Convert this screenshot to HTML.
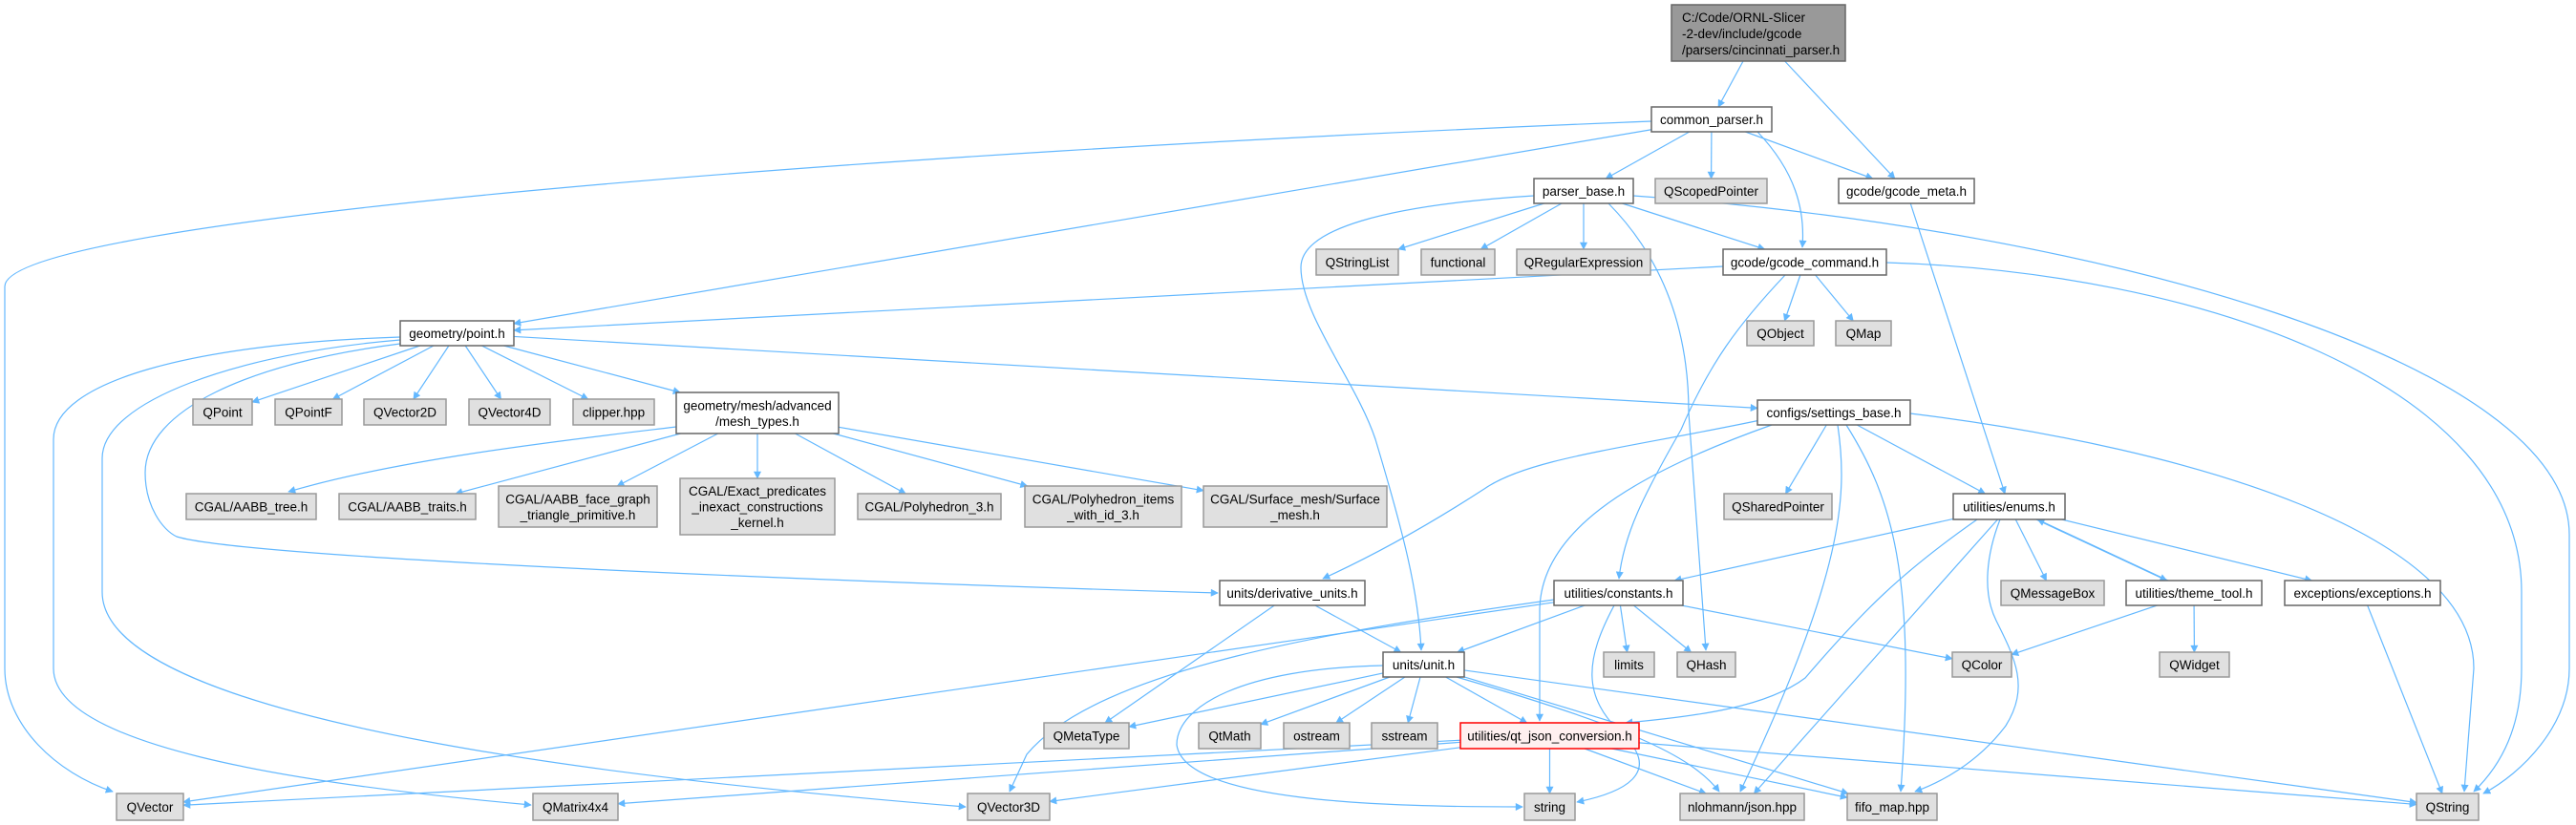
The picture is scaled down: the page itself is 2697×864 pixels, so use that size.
<!DOCTYPE html>
<html><head><meta charset="utf-8"><style>
html,body{margin:0;padding:0;background:#fff;}
svg{display:block;}
text{font-family:"Liberation Sans",Arial,sans-serif;font-size:13.5px;fill:#000;}
</style></head><body>
<svg id="g" xmlns="http://www.w3.org/2000/svg" width="2697" height="864" viewBox="0 0 2697 864">
<defs><marker id="a" viewBox="0 0 10 10" refX="9" refY="5" markerWidth="10" markerHeight="8" markerUnits="userSpaceOnUse" orient="auto"><path d="M0,0 L10,5 L0,10 z" fill="#63b8ff"/></marker></defs>
<g id="edges" fill="none" stroke="#63b8ff" stroke-width="1.2">
<path marker-end="url(#a)" d="M1729,127 C900,160 5,230 5,300 L5,700 C5,760 60,810 118,829"/>
<path marker-end="url(#a)" d="M419,353 C200,360 56,400 56,460 L56,700 C56,780 300,820 556,843"/>
<path marker-end="url(#a)" d="M419,356 C250,370 107,420 107,480 L107,620 C107,760 700,820 1011,845"/>
<path marker-end="url(#a)" d="M419,360 C260,380 152,430 152,495 C152,530 170,555 185,562 C260,585 900,610 1275,621"/>
<path marker-end="url(#a)" d="M1606,205 C1450,215 1362,240 1362,280 C1362,330 1420,400 1440,460 C1470,560 1485,620 1488,681"/>
<path marker-end="url(#a)" d="M1684,213 C1750,280 1768,360 1768,432 L1786,681"/>
<path marker-end="url(#a)" d="M1840,138 C1880,180 1890,220 1887,259"/>
<path marker-end="url(#a)" d="M1843,440 C1700,470 1600,480 1554,512 C1480,560 1420,590 1385,606"/>
<path marker-end="url(#a)" d="M1855,445 C1700,500 1612,560 1612,640 L1612,755"/>
<path marker-end="url(#a)" d="M1924,445 C1935,520 1930,600 1822,829"/>
<path marker-end="url(#a)" d="M1933,445 C1980,520 2007,600 1990,829"/>
<path marker-end="url(#a)" d="M2000,433 C2300,470 2590,560 2590,700 L2580,829"/>
<path marker-end="url(#a)" d="M1710,205 C2200,240 2690,380 2690,560 L2690,700 C2690,760 2640,810 2600,831"/>
<path marker-end="url(#a)" d="M1975,275 C2300,285 2640,400 2640,620 L2640,700 C2640,760 2620,800 2590,829"/>
<path marker-end="url(#a)" d="M1869,288 C1820,340 1790,380 1760,450 C1720,520 1700,560 1695,606"/>
<path marker-end="url(#a)" d="M2094,544 C2080,580 2075,620 2090,650 C2110,690 2125,720 2100,760 C2070,800 2030,820 2005,829"/>
<path marker-end="url(#a)" d="M2070,544 C1990,600 1950,640 1890,710 C1850,740 1780,750 1702,757"/>
<path marker-end="url(#a)" d="M1448,697 C1300,700 1232,740 1232,780 C1240,840 1450,845 1594,845"/>
<path marker-end="url(#a)" d="M1525,709 C1700,760 1770,790 1800,829"/>
<path marker-end="url(#a)" d="M1690,634 C1660,690 1655,730 1700,770 C1740,810 1700,830 1651,840"/>
<path marker-end="url(#a)" d="M1627,628 C1400,660 1150,700 1075,790 L1057,829"/>
<path marker-end="url(#a)" d="M708,447 C600,460 420,480 302,515"/>
</g>
<g id="nodes">
<rect x="1750" y="5" width="182" height="59" fill="#999" stroke="#666" stroke-width="1.5"/>
<text x="1761" y="23">C:/Code/ORNL-Slicer</text>
<text x="1761" y="40">-2-dev/include/gcode</text>
<text x="1761" y="57">/parsers/cincinnati_parser.h</text>
</g>
</svg>
<script>
var N={
cp:[1729,1855,112,138,"common_parser.h",0],
pb:[1606,1710,187,213,"parser_base.h",0],
qsp:[1733,1850,187,213,"QScopedPointer",1],
meta:[1925,2067,187,213,"gcode/gcode_meta.h",0],
qsl:[1378,1464,261,288,"QStringList",1],
fun:[1488,1565,261,288,"functional",1],
qre:[1588,1728,261,288,"QRegularExpression",1],
cmd:[1804,1975,261,288,"gcode/gcode_command.h",0],
qobj:[1829,1899,336,362,"QObject",1],
qmap:[1922,1980,336,362,"QMap",1],
pt:[419,538,336,362,"geometry/point.h",0],
qpoint:[202,264,418,445,"QPoint",1],
qpointf:[288,358,418,445,"QPointF",1],
qv2:[381,467,418,445,"QVector2D",1],
qv4:[491,576,418,445,"QVector4D",1],
clip:[600,685,418,445,"clipper.hpp",1],
mesh:[708,878,411,454,"geometry/mesh/advanced|/mesh_types.h",0],
set:[1840,2000,419,445,"configs/settings_base.h",0],
aabbt:[195,331,517,544,"CGAL/AABB_tree.h",1],
aabbtr:[355,498,517,544,"CGAL/AABB_traits.h",1],
fg:[522,688,509,552,"CGAL/AABB_face_graph|_triangle_primitive.h",1],
ex:[712,874,501,560,"CGAL/Exact_predicates|_inexact_constructions|_kernel.h",1],
poly:[898,1048,517,544,"CGAL/Polyhedron_3.h",1],
polyi:[1073,1237,509,552,"CGAL/Polyhedron_items|_with_id_3.h",1],
surf:[1260,1452,509,552,"CGAL/Surface_mesh/Surface|_mesh.h",1],
qshp:[1805,1918,517,544,"QSharedPointer",1],
enums:[2045,2162,517,544,"utilities/enums.h",0],
der:[1277,1429,608,634,"units/derivative_units.h",0],
cst:[1627,1762,608,634,"utilities/constants.h",0],
qmb:[2095,2203,608,634,"QMessageBox",1],
theme:[2226,2368,608,634,"utilities/theme_tool.h",0],
exc:[2392,2555,608,634,"exceptions/exceptions.h",0],
limits:[1679,1732,683,709,"limits",1],
qhash:[1756,1817,683,709,"QHash",1],
qcolor:[2044,2106,683,709,"QColor",1],
qwidget:[2261,2334,683,709,"QWidget",1],
unit:[1448,1533,683,709,"units/unit.h",0],
qmt:[1093,1182,757,784,"QMetaType",1],
qtmath:[1255,1320,757,784,"QtMath",1],
ostream:[1344,1413,757,784,"ostream",1],
sstream:[1436,1505,757,784,"sstream",1],
qjson:[1529,1716,757,784,"utilities/qt_json_conversion.h",2],
qvec:[122,192,831,859,"QVector",1],
qm44:[558,647,831,859,"QMatrix4x4",1],
qv3:[1013,1099,831,859,"QVector3D",1],
str:[1596,1649,831,859,"string",1],
json:[1759,1889,831,859,"nlohmann/json.hpp",1],
fifo:[1934,2028,831,859,"fifo_map.hpp",1],
qstr:[2530,2595,831,859,"QString",1]
};
N.root=[1750,1932,5,64];
var NS="http://www.w3.org/2000/svg";
var g=document.getElementById("nodes"),eg=document.getElementById("edges");
function el(t,a,p){var e=document.createElementNS(NS,t);for(var k in a)e.setAttribute(k,a[k]);p.appendChild(e);return e;}
for(var k in N){if(k=="root")continue;var n=N[k];
var fill=n[5]==1?"#e0e0e0":(n[5]==2?"#fff0f0":"#fff"),st=n[5]==1?"#999":(n[5]==2?"#f00":"#666");
el("rect",{x:n[0],y:n[2],width:n[1]-n[0],height:n[3]-n[2],fill:fill,stroke:st,"stroke-width":1.5},g);
var lines=n[4].split("|"),cx=(n[0]+n[1])/2,cy=(n[2]+n[3])/2,lh=16.5;
for(var i=0;i<lines.length;i++){var t=el("text",{x:cx,y:cy+5+(i-(lines.length-1)/2)*lh,"text-anchor":"middle"},g);t.textContent=lines[i];}}
function C(b){return [(b[0]+b[1])/2,(b[2]+b[3])/2];}
function clip(b,p){var c=C(b),dx=p[0]-c[0],dy=p[1]-c[1],hw=(b[1]-b[0])/2,hh=(b[3]-b[2])/2;
var s=Math.min(dx?hw/Math.abs(dx):1e9,dy?hh/Math.abs(dy):1e9);return [c[0]+dx*s,c[1]+dy*s];}
function E(a,b,off){var A=N[a],B=N[b];var ca=C(A),cb=C(B);
if(off){ca=[ca[0]+off,ca[1]];cb=[cb[0]+off,cb[1]];}
var s=clip(A,cb),e=clip(B,ca);
el("path",{d:"M"+s+" L"+e,"marker-end":"url(#a)"},eg);}
var ES=[
["root","cp"],["root","meta"],
["cp","pt"],["cp","pb"],["cp","qsp"],["cp","meta"],
["pb","qsl"],["pb","fun"],["pb","qre"],["pb","cmd"],
["meta","enums"],
["cmd","pt"],["cmd","qobj"],["cmd","qmap"],
["pt","qpoint"],["pt","qpointf"],["pt","qv2"],["pt","qv4"],["pt","clip"],["pt","mesh"],["pt","set"],
["mesh","aabbtr"],["mesh","fg"],["mesh","ex"],["mesh","poly"],["mesh","polyi"],["mesh","surf"],
["set","qshp"],["set","enums"],
["enums","cst"],["enums","qmb"],["enums","theme",-4],["theme","enums",6],["enums","exc"],["enums","json"],
["theme","qcolor"],["theme","qwidget"],["exc","qstr"],
["cst","unit"],["cst","limits"],["cst","qhash"],["cst","qcolor"],["cst","qvec"],
["der","unit"],["der","qmt"],
["unit","qmt"],["unit","qtmath"],["unit","ostream"],["unit","sstream"],["unit","qjson"],["unit","fifo"],["unit","qstr"],
["qjson","qvec"],["qjson","qm44"],["qjson","qv3"],["qjson","str"],["qjson","json"],["qjson","fifo"],["qjson","qstr"]
];
ES.forEach(function(e){E(e[0],e[1],e[2]);});
</script>
</body></html>
